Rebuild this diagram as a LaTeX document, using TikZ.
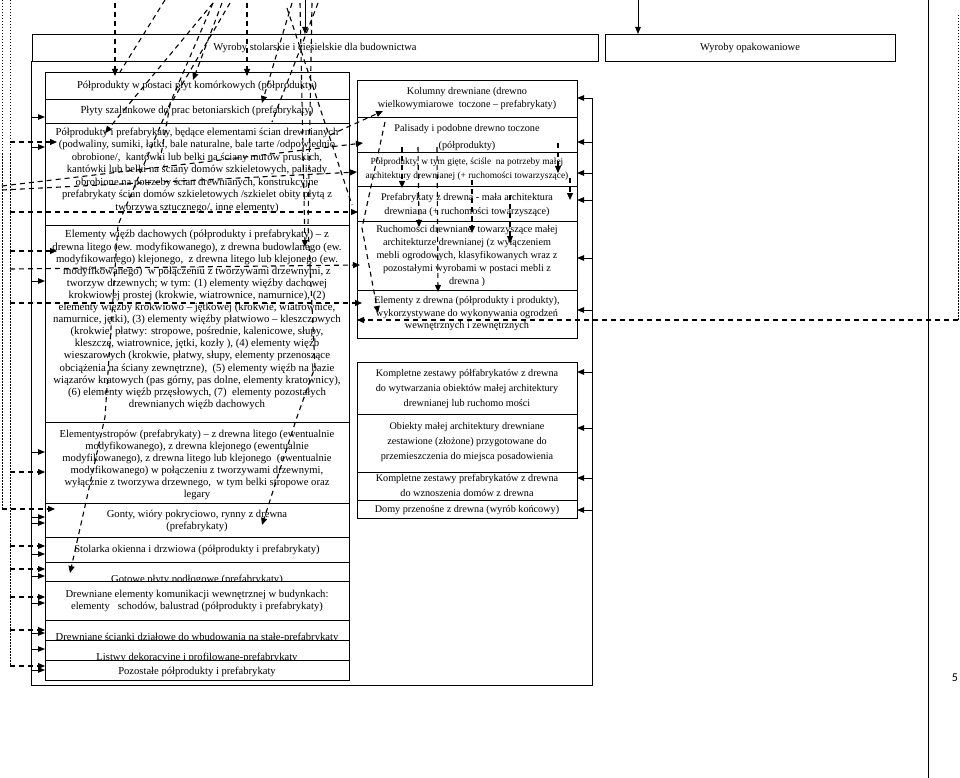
\documentclass[tikz,border=0pt]{standalone}
\usepackage{fontspec}
\setmainfont{Liberation Serif}
\newfontfamily\pagenumfont{Carlito}
\usetikzlibrary{arrows.meta}
\begin{document}
\begin{tikzpicture}[x=1pt,y=-1pt,
 box/.style={draw,line width=0.8pt,fill=white,inner sep=0pt,outer sep=0pt,anchor=north west},
 lt/.style={font=\fontsize{10.6}{12}\selectfont,align=center,inner sep=0pt},
 rt/.style={font=\fontsize{10.2}{13}\selectfont,align=center,inner sep=0pt},
 ht/.style={font=\fontsize{10.5}{11}\selectfont,inner sep=0pt},
 sarr/.style={line width=0.9pt,-{Triangle[length=7pt,width=5.5pt]}},
 darr/.style={line width=1.1pt,dash pattern=on 5pt off 4pt,-{Triangle[length=7pt,width=6pt]}},
 dln/.style={line width=1.1pt,dash pattern=on 5pt off 4pt},
 dotl/.style={line width=0.8pt,dash pattern=on 1.5pt off 1.5pt},
]
\useasboundingbox (0,0) rectangle (960,778);

% headers
\node[box,minimum width=566pt,minimum height=27pt] (h1) at (32,34) {};
\node[ht] (g1) at (315,47.5) {Wyroby stolarskie i ciesielskie dla budownictwa};
\node[box,minimum width=290pt,minimum height=27pt] (h2) at (605,34) {};
\node[ht] (g2) at (750,47.5) {Wyroby opakowaniowe};

% container
\draw[line width=0.9pt] (31,61) -- (31,685) -- (592,685) -- (592,98);

% left column
\node[box,minimum width=304pt,minimum height=27pt] (b1) at (45,72) {};
\node[lt] (t1) at (197,86) {Półprodukty w postaci płyt komórkowych (półprodukty)};
\node[box,minimum width=304pt,minimum height=24pt] (b2) at (45,99) {};
\node[lt] (t2) at (197,111) {Płyty szalunkowe do prac betoniarskich (prefabrykaty)};
\node[box,minimum width=304pt,minimum height=102pt] (b3) at (45,123) {};
\node[lt,font=\fontsize{10.6}{12.5}\selectfont] (t3) at (197,170) {Półprodukty i prefabrykaty, będące elementami ścian drewnianych\\(podwaliny, sumiki, łatki, bale naturalne, bale tarte /odpowiednio\\obrobione/,\ \ kantówki lub belki na ściany murów pruskich,\\kantówki lub belki na ściany domów szkieletowych, palisady\\obrobione na potrzeby ścian drewnianych, konstrukcyjne\\prefabrykaty ścian domów szkieletowych /szkielet obity płytą z\\tworzywa sztucznego/, inne elementy)};
\node[box,minimum width=304pt,minimum height=197pt] (b4) at (45,225) {};
\node[lt,font=\fontsize{10.8}{12.1}\selectfont] (t4) at (197,320) {Elementy więźb dachowych (półprodukty i prefabrykaty) – z\\drewna litego (ew. modyfikowanego), z drewna budowlanego (ew.\\modyfikowanego) klejonego,\ \ z drewna litego lub klejonego (ew.\\modyfikowanego)\ \ w połączeniu z tworzywami drzewnymi, z\\tworzyw drzewnych; w tym: (1) elementy więźby dachowej\\krokwiowej prostej (krokwie, wiatrownice, namurnice), (2)\\elementy więźby krokwiowo – jętkowej (krokwie, wiatrownice,\\namurnice, jętki), (3) elementy więźby płatwiowo – kleszczowych\\(krokwie, płatwy: stropowe, pośrednie, kalenicowe, słupy,\\kleszcze, wiatrownice, jętki, kozły ), (4) elementy więźb\\wieszarowych (krokwie, płatwy, słupy, elementy przenoszące\\obciążenia na ściany zewnętrzne),\ \ (5) elementy więźb na bazie\\wiązarów kratowych (pas górny, pas dolne, elementy kratownicy),\\(6) elementy więźb przęsłowych, (7)\ \ elementy pozostałych\\drewnianych więźb dachowych};
\node[box,minimum width=304pt,minimum height=81pt] (b5) at (45,422) {};
\node[lt] (t5) at (197,465) {Elementy stropów (prefabrykaty) – z drewna litego (ewentualnie\\modyfikowanego), z drewna klejonego (ewentualnie\\modyfikowanego), z drewna litego lub klejonego\ \ (ewentualnie\\modyfikowanego) w połączeniu z tworzywami drzewnymi,\\wyłącznie z tworzywa drzewnego,\ \ w tym belki stropowe oraz\\legary};
\node[box,minimum width=304pt,minimum height=34pt] (b6) at (45,503) {};
\node[lt] (t6) at (197,521) {Gonty, wióry pokryciowo, rynny z drewna\\(prefabrykaty)};
\node[box,minimum width=304pt,minimum height=25pt] (b7) at (45,537) {};
\node[lt] (t7) at (197,550) {Stolarka okienna i drzwiowa (półprodukty i prefabrykaty)};
\node[box,minimum width=304pt,minimum height=19pt] (b8) at (45,562) {};
\node[lt] (t8) at (197,580) {Gotowe płyty podłogowe (prefabrykaty)};
\node[box,minimum width=304pt,minimum height=39pt] (b9) at (45,581) {};
\node[lt] (t9) at (197,601) {Drewniane elementy komunikacji wewnętrznej w budynkach:\\elementy\ \ \ schodów, balustrad (półprodukty i prefabrykaty)};
\node[box,minimum width=304pt,minimum height=20pt] (b10) at (45,620) {};
\node[lt] (t10) at (197,637.5) {Drewniane ścianki działowe do wbudowania na stałe-prefabrykaty};
\node[box,minimum width=304pt,minimum height=20pt] (b11) at (45,640) {};
\node[lt] (t11) at (197,657.5) {Listwy dekoracyjne i profilowane-prefabrykaty};
\node[box,minimum width=304pt,minimum height=20pt] (b12) at (45,660) {};
\node[lt] (t12) at (197,672) {Pozostałe półprodukty i prefabrykaty};

% right column
\node[box,minimum width=220pt,minimum height=37pt] (r1) at (357,80) {};
\node[rt] (u1) at (467,98.5) {Kolumny drewniane (drewno\\wielkowymiarowe\ \ toczone – prefabrykaty)};
\node[box,minimum width=220pt,minimum height=35pt] (r2) at (357,117) {};
\node[rt,font=\fontsize{10.2}{17}\selectfont] (u2) at (467,138) {Palisady i podobne drewno toczone\\(półprodukty)};
\node[box,minimum width=220pt,minimum height=34pt] (r3) at (357,152) {};
\node[rt,font=\fontsize{9.4}{14}\selectfont] (u3) at (467,169.5) {Półprodukty, w tym gięte, ściśle\ \ na potrzeby małej\\architektury drewnianej (+ ruchomości towarzyszące)};
\node[box,minimum width=220pt,minimum height=35pt] (r4) at (357,186) {};
\node[rt,font=\fontsize{10.2}{14}\selectfont] (u4) at (467,205) {Prefabrykaty z drewna - mała architektura\\drewniana (+ ruchomości towarzyszące)};
\node[box,minimum width=220pt,minimum height=69pt] (r5) at (357,221) {};
\node[rt] (u5) at (467,256) {Ruchomości drewniane\ \ towarzyszące małej\\architekturze drewnianej (z wyłączeniem\\mebli ogrodowych, klasyfikowanych wraz z\\pozostałymi wyrobami w postaci mebli z\\drewna )};
\node[box,minimum width=220pt,minimum height=48pt] (r6) at (357,290) {};
\node[rt,font=\fontsize{10.2}{12.5}\selectfont] (u6) at (467,314) {Elementy z drewna (półprodukty i produkty),\\wykorzystywane do wykonywania ogrodzeń\\wewnętrznych i zewnętrznych};
\node[box,minimum width=220pt,minimum height=52pt] (r7) at (357,362) {};
\node[rt,font=\fontsize{10.2}{15}\selectfont] (u7) at (467,389) {Kompletne zestawy półfabrykatów z drewna\\do wytwarzania obiektów małej architektury\\drewnianej lub ruchomo mości};
\node[box,minimum width=220pt,minimum height=58pt] (r8) at (357,414) {};
\node[rt,font=\fontsize{10.2}{15}\selectfont] (u8) at (467,442) {Obiekty małej architektury drewniane\\zestawione (złożone) przygotowane do\\przemieszczenia do miejsca posadowienia};
\node[box,minimum width=220pt,minimum height=28pt] (r9) at (357,472) {};
\node[rt,font=\fontsize{10.2}{15}\selectfont] (u9) at (467,485) {Kompletne zestawy prefabrykatów z drewna\\do wznoszenia domów z drewna};
\node[box,minimum width=220pt,minimum height=18pt] (r10) at (357,500) {};
\node[rt] (u10) at (467,510) {Domy przenośne z drewna (wyrób końcowy)};

% right bracket arrows
\foreach \yy in {98,142,173,200,258,310,372,428,478,510}
  \draw[sarr] (592,\yy) -- (577,\yy);

% left solid arrows
\foreach \yy in {117,147,281,452,517,523,554,576,603,633,649,670}
  \draw[sarr] (31,\yy) -- (45,\yy);

% top solid arrows
\draw[sarr] (305,0) -- (305,34);
\draw[sarr] (638,0) -- (638,34);

% far right
\draw[line width=1pt] (928,0) -- (928,778);
\draw[dotl] (958,15) -- (958,320);
\node[font=\fontsize{12}{14}\selectfont\pagenumfont,inner sep=0pt] (pg) at (955,678) {5};

% left dotted lines
\draw[dotl] (2,0) -- (2,509);
\draw[dotl] (10,0) -- (10,666);

% dashed: from top
\draw[darr] (115,3) -- (115,76);
\draw[dln] (165,0) -- (120,72);
\draw[darr] (213,3) -- (105,133);
\draw[darr] (213,3) -- (118,225) -- (105,417) -- (70,573);
\draw[darr] (222,3) -- (193,80);
\draw[dln] (230,3) -- (170,105) -- (160,160);
\draw[darr] (247,3) -- (247,76);
\draw[darr] (292,3) -- (262,103);
\draw[dln] (287,8) -- (352,205);
\draw[darr] (300,3) -- (305,247);
\draw[darr] (312,3) -- (308,225) -- (315,367) -- (297,417) -- (262,525);
\draw[dln] (318,3) -- (272,122);

% dashed: from left
\draw[darr] (10,142) -- (57,142);
\draw[darr] (2,190) -- (357,172);
\draw[darr] (2,186) -- (363,143);
\draw[darr] (10,212) -- (358,212);
\draw[darr] (10,251) -- (57,251);
\draw[darr] (10,269) -- (360,265);
\draw[darr] (10,303) -- (362,303);
\draw[darr] (10,472) -- (45,472);
\draw[darr] (2,509) -- (55,509);
\draw[darr] (10,546) -- (45,546);
\draw[darr] (10,569) -- (45,569);
\draw[darr] (10,597) -- (45,597);
\draw[darr] (10,630) -- (45,630);
\draw[darr] (10,666) -- (45,666);

% dashed: from right
\draw[darr] (958,320) -- (357,320);
\draw[darr] (330,135) -- (383,111);

% dashed: inside right column
\draw[darr] (385,122) -- (362,228) -- (378,313);
\draw[darr] (402,147) -- (402,188);
\draw[darr] (418,147) -- (419,227);
\draw[darr] (437,147) -- (438,292);
\draw[darr] (472,180) -- (472,233);
\draw[darr] (510,195) -- (510,243);
\draw[darr] (558,143) -- (558,173);
\draw[darr] (570,178) -- (570,200);
\end{tikzpicture}
\end{document}
